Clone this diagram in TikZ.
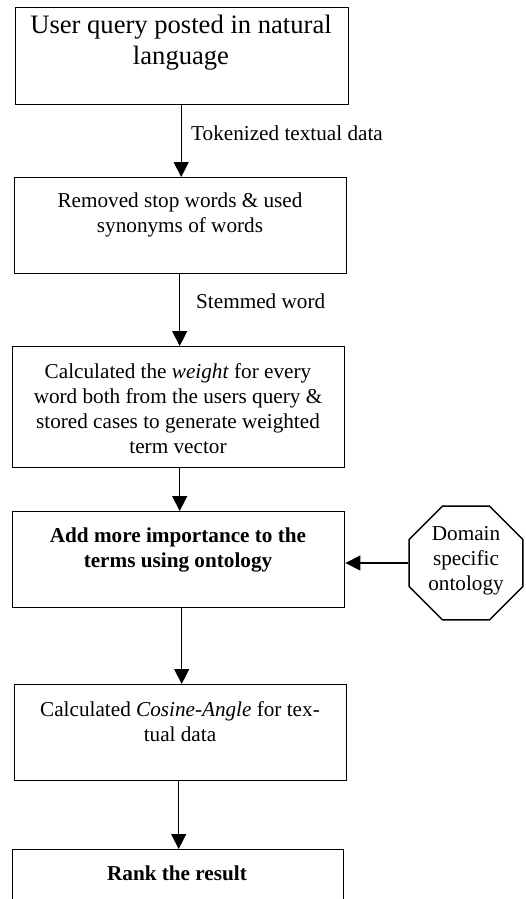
\documentclass[tikz,border=0pt]{standalone}
\usepackage{fontspec}
\setmainfont{Liberation Serif}
\usetikzlibrary{arrows.meta,shapes.geometric}
\begin{document}
\begin{tikzpicture}[x=1pt,y=-1pt,
  boxshape/.style={draw,line width=1.4pt,rectangle,inner sep=0pt,anchor=north west},
  boxtext/.style={inner sep=0pt,align=center,anchor=north,font=\fontsize{21.2}{25}\selectfont},
  lbl/.style={inner sep=0pt,anchor=base west,font=\fontsize{21.2}{25}\selectfont},
  flow/.style={line width=1.3pt,-{Triangle[width=15pt,length=15pt]}}]
\path[use as bounding box,clip] (0,0) rectangle (526,899);
\fill[white] (0,0) rectangle (526,899);
% boxes
\node[boxshape,minimum width=333pt,minimum height=97pt] (b1) at (15,7) {};
\node[boxshape,minimum width=332pt,minimum height=96pt] (b2) at (14,177) {};
\node[boxshape,minimum width=332pt,minimum height=121pt] (b3) at (12,346) {};
\node[boxshape,minimum width=332pt,minimum height=96pt] (b4) at (12,511) {};
\node[boxshape,minimum width=332pt,minimum height=96pt] (b5) at (14,684) {};
\node[boxshape,minimum width=331pt,minimum height=90pt] (b6) at (12,849) {};
\node[draw,line width=1.4pt,regular polygon,regular polygon sides=8,minimum size=123pt,inner sep=0pt] (oct) at (466,563) {};
% texts
\node[boxtext,font=\fontsize{26.6}{31}\selectfont] (t1) at (181,15) {User query posted in natural\\language};
\node[boxtext] (t2) at (180,193) {Removed stop words \& used\\synonyms of words};
\node[boxtext] (t3) at (178,363) {Calculated the \textit{weight} for every\\word both from the users query \&\\stored cases to generate weighted\\term vector};
\node[boxtext,font=\bfseries\fontsize{21.2}{25}\selectfont] (t4) at (178,528) {Add more importance to the\\terms using ontology};
\node[boxtext] (t5) at (180,701) {Calculated \textit{Cosine-Angle} for tex-\\tual data};
\node[boxtext,font=\bfseries\fontsize{21.2}{25}\selectfont] (t6) at (177,866) {Rank the result};
\node[boxtext] (to) at (466,526) {Domain\\specific\\ontology};
% labels
\node[lbl] (l1) at (191,140) {Tokenized textual data};
\node[lbl] (l2) at (196,308) {Stemmed word};
% connectors
\draw[flow] ([xshift=-1pt]b1.south) -- ([xshift=-1pt]b1.south |- b2.north);
\draw[flow] ([xshift=-1pt]b2.south) -- ([xshift=-1pt]b2.south |- b3.north);
\draw[flow] ([xshift=1pt]b3.south) -- ([xshift=1pt]b3.south |- b4.north);
\draw[flow] ([xshift=3pt]b4.south) -- ([xshift=3pt]b4.south |- b5.north);
\draw[flow] ([xshift=-2pt]b5.south) -- ([xshift=-2pt]b5.south |- b6.north);
\draw[flow] (oct.west) -- (oct.west -| b4.east);
\end{tikzpicture}
\end{document}
